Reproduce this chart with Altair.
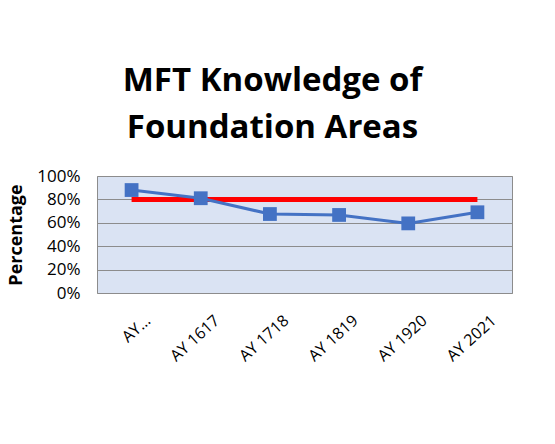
import altair as alt
import pandas as pd

categories = ["AY…", "AY 1617", "AY 1718", "AY 1819", "AY 1920", "AY 2021"]
percentages = [0.88, 0.81, 0.675, 0.667, 0.595, 0.69]
target = [0.80, 0.80, 0.80, 0.80, 0.80, 0.80]
y_ticks = [0, 0.2, 0.4, 0.6, 0.8, 1.0]

df = pd.DataFrame({"cat": categories, "pct": percentages, "target": target})

FONT = "Open Sans"

x_enc = alt.X(
    "cat:N",
    sort=categories,
    scale=alt.Scale(type="point", padding=0.5),
    axis=alt.Axis(
        title=None,
        labelAngle=-42,
        labelAlign="right",
        labelBaseline="middle",
        labelFontSize=16,
        labelFont=FONT,
        labelColor="#000000",
        labelOffset=16,
        labelPadding=25,
        labelOverlap=False,
        labelBound=False,
        ticks=False,
        domain=False,
        grid=False,
    ),
)
y_axis = alt.Axis(
    title="Percentage",
    titleFont=FONT,
    titleFontSize=18,
    titleFontWeight="bold",
    titleColor="#000000",
    titlePadding=11,
    values=y_ticks,
    tickCount=12,
    format=".0%",
    labelFont=FONT,
    labelFontSize=17,
    labelColor="#000000",
    labelPadding=17,
    labelOverlap=False,
    labelBound=False,
    labelFlush=False,
    ticks=False,
    domain=False,
    grid=True,
    gridColor="#8c8c8c",
    gridWidth=1,
)
y_scale = alt.Scale(domain=[0, 1], nice=False)

base = alt.Chart(df)

target_line = base.mark_line(color="#ff0000", strokeWidth=5).encode(
    x=x_enc,
    y=alt.Y("target:Q", scale=y_scale, axis=y_axis),
)

series = base.mark_line(
    color="#4472c4",
    strokeWidth=3,
    point=alt.OverlayMarkDef(shape="square", size=190, filled=True, color="#4472c4", opacity=1),
).encode(
    x=x_enc,
    y=alt.Y("pct:Q", scale=y_scale, axis=y_axis),
)

chart = (
    alt.layer(target_line, series)
    .properties(
        width=415,
        height=117,
        autosize=alt.AutoSizeParams(type="none"),
        padding={"left": 97, "top": 176, "right": 43, "bottom": 151},
        title=alt.TitleParams(
            text=["MFT Knowledge of", "Foundation Areas"],
            font=FONT,
            fontSize=33,
            fontWeight="bold",
            color="#000000",
            anchor="middle",
            dx=-32,
            lineHeight=47,
            offset=22,
        ),
        background="#ffffff",
    )
    .configure_view(fill="#dae3f3", stroke="#8c8c8c", strokeWidth=1)
)

chart.save("out.html", embed_options={"renderer": "svg", "actions": False})
